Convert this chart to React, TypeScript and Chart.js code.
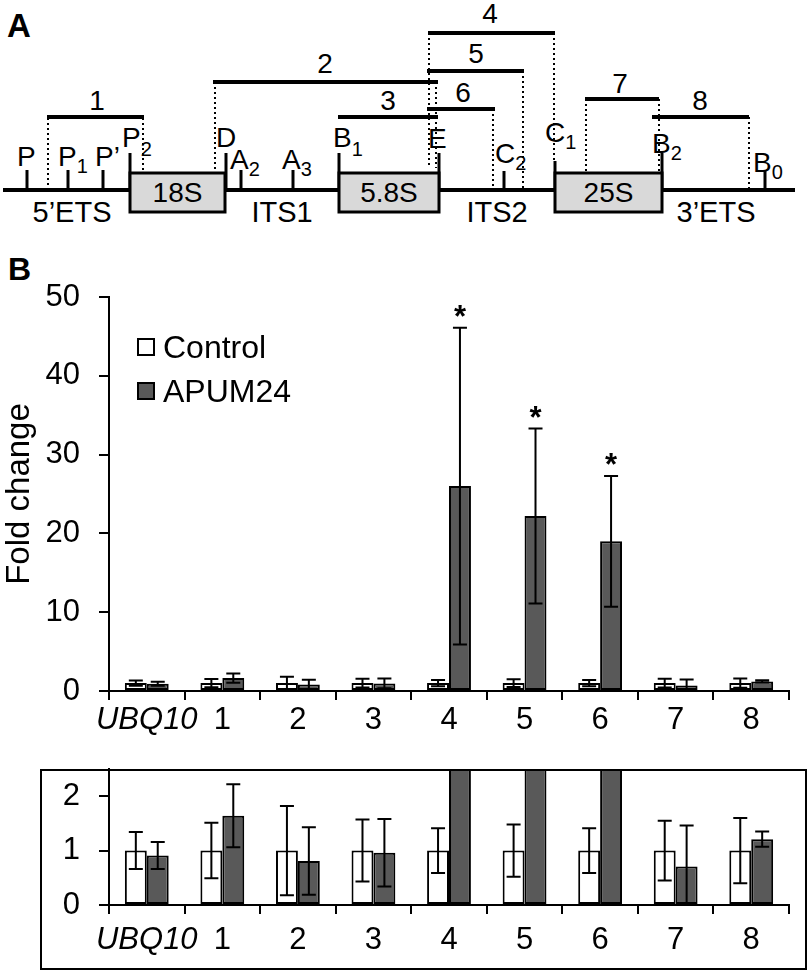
import React, { useEffect, useRef } from 'react';
import { Chart, registerables } from 'chart.js';

Chart.register(...registerables);

// ---------- data ----------
const categories = ['UBQ10', '1', '2', '3', '4', '5', '6', '7', '8'];
const seriesLabels = ['Control', 'APUM24'];
const controlValues = [1, 1, 1, 1, 1, 1, 1, 1, 1];
const controlErrors = [0.34, 0.51, 0.82, 0.57, 0.41, 0.48, 0.41, 0.55, 0.6];
const apumValues = [0.91, 1.64, 0.81, 0.96, 26, 22.2, 19, 0.71, 1.21];
const apumErrors = [0.25, 0.58, 0.62, 0.62, 20.1, 11.1, 8.3, 0.75, 0.14];
const significant = [false, false, false, false, true, true, true, false, false];
const mainYTicks = [0, 10, 20, 30, 40, 50];
const insetYTicks = [0, 1, 2];

const FONT = "'Liberation Sans', Arial, Helvetica, sans-serif";
const DARK = '#595959';

const MAIN_TOP = 257;
const INSET_TOP = 727;

const errorBarPlugin = {
  id: 'errorBars',
  afterDatasetsDraw(chart: any) {
    const { ctx, chartArea, scales } = chart;
    const y = scales.y;
    const errs = [controlErrors, apumErrors];
    ctx.save();
    ctx.beginPath();
    ctx.rect(chartArea.left, chartArea.top - 1, chartArea.right - chartArea.left, chartArea.bottom - chartArea.top + 1);
    ctx.clip();
    ctx.strokeStyle = '#000';
    ctx.lineWidth = 2;
    chart.data.datasets.forEach((ds: any, di: number) => {
      const meta = chart.getDatasetMeta(di);
      meta.data.forEach((bar: any, i: number) => {
        const v = ds.data[i];
        const e = errs[di][i];
        const x = bar.x;
        const yt = y.getPixelForValue(v + e);
        const yb = y.getPixelForValue(v - e);
        ctx.beginPath();
        ctx.moveTo(x, yt);
        ctx.lineTo(x, yb);
        ctx.moveTo(x - 7, yt);
        ctx.lineTo(x + 7, yt);
        ctx.moveTo(x - 7, yb);
        ctx.lineTo(x + 7, yb);
        ctx.stroke();
      });
    });
    ctx.restore();
  },
};

const asteriskPlugin = {
  id: 'asterisks',
  afterDatasetsDraw(chart: any, _args: any, opts: any) {
    if (!opts || !opts.enabled) return;
    const { ctx, scales } = chart;
    const meta = chart.getDatasetMeta(1);
    ctx.save();
    ctx.fillStyle = '#000';
    ctx.font = `bold 31px ${FONT}`;
    ctx.textAlign = 'center';
    ctx.textBaseline = 'alphabetic';
    significant.forEach((s, i) => {
      if (!s) return;
      const bar = meta.data[i];
      const yt = scales.y.getPixelForValue(apumValues[i] + apumErrors[i]);
      ctx.fillText('*', bar.x, yt - 1);
    });
    ctx.restore();
  },
};

const legendPlugin = {
  id: 'boxLegend',
  afterDraw(chart: any, _args: any, opts: any) {
    if (!opts || !opts.enabled) return;
    const { ctx } = chart;
    const fills = ['#ffffff', DARK];
    const tops = [338 - MAIN_TOP, 382 - MAIN_TOP];
    ctx.save();
    seriesLabels.forEach((lab, i) => {
      ctx.fillStyle = fills[i];
      ctx.fillRect(137, tops[i], 18, 18);
      ctx.strokeStyle = '#000';
      ctx.lineWidth = 2;
      ctx.strokeRect(138, tops[i] + 1, 16, 16);
      ctx.fillStyle = '#000';
      ctx.font = `32px ${FONT}`;
      ctx.textAlign = 'left';
      ctx.textBaseline = 'alphabetic';
      ctx.fillText(lab, 163, tops[i] + 20);
    });
    ctx.restore();
  },
};

function makeConfig(o: {
  yMax: number;
  yTicks: number[];
  padTop: number;
  xHeight: number;
  xPad: number;
  main: boolean;
}): any {
  return {
    type: 'bar',
    data: {
      labels: categories,
      datasets: [
        {
          label: seriesLabels[0],
          data: controlValues,
          backgroundColor: '#ffffff',
          borderColor: '#000',
          borderWidth: 2,
          borderSkipped: false,
          categoryPercentage: 0.58,
          barPercentage: 1,
        },
        {
          label: seriesLabels[1],
          data: apumValues,
          backgroundColor: DARK,
          borderColor: '#000',
          borderWidth: 2,
          borderSkipped: false,
          categoryPercentage: 0.58,
          barPercentage: 1,
        },
      ],
    },
    options: {
      responsive: false,
      animation: false,
      devicePixelRatio: 1,
      layout: { padding: { left: 0, right: 21, top: o.padTop, bottom: 0 } },
      plugins: {
        legend: { display: false },
        tooltip: { enabled: false },
        asterisks: { enabled: o.main },
        boxLegend: { enabled: o.main },
      },
      scales: {
        x: {
          type: 'category',
          offset: true,
          grid: {
            offset: true,
            drawOnChartArea: false,
            drawTicks: true,
            tickLength: 9,
            color: '#000',
            lineWidth: 2,
          },
          border: { display: true, color: '#000', width: 2 },
          ticks: {
            color: '#000',
            padding: o.xPad,
            maxRotation: 0,
            autoSkip: false,
            font: (c: any) => ({
              family: FONT,
              size: 31,
              style: c.index === 0 ? 'italic' : 'normal',
            }),
          },
          afterFit: (s: any) => {
            s.height = o.xHeight;
          },
        },
        y: {
          min: 0,
          max: o.yMax,
          grid: {
            drawOnChartArea: false,
            drawTicks: true,
            tickLength: 10,
            color: '#000',
            lineWidth: 2,
          },
          border: { display: true, color: '#000', width: 2 },
          ticks: {
            color: '#000',
            padding: 19,
            font: { family: FONT, size: 31 },
          },
          title: o.main
            ? {
                display: true,
                text: 'Fold change',
                color: '#000',
                font: { family: FONT, size: 33 },
                padding: { top: 0, bottom: 0 },
              }
            : { display: false },
          afterBuildTicks: (s: any) => {
            s.ticks = o.yTicks.map((v) => ({ value: v }));
          },
          afterFit: (s: any) => {
            s.width = 109;
          },
        },
      },
    },
    plugins: [errorBarPlugin, asteriskPlugin, legendPlugin],
  };
}

const Lbl = ({ x, y, t, sub, subDy = 7 }: { x: number; y: number; t: string; sub?: string; subDy?: number }) => (
  <text x={x} y={y} fontSize={28}>
    {t}
    {sub ? (
      <tspan fontSize={20} dy={subDy}>
        {sub}
      </tspan>
    ) : null}
  </text>
);

const Diagram = () => {
  const dotted = (x: number, y1: number, y2: number, k: string) => (
    <line key={k} x1={x} y1={y1} x2={x} y2={y2} stroke="#000" strokeWidth={2} strokeDasharray="2,3" />
  );
  const tick = (x: number, y1: number, k: string) => (
    <line key={k} x1={x} y1={y1} x2={x} y2={190} stroke="#000" strokeWidth={3} />
  );
  const seg = (x1: number, x2: number, y: number, label: string, lx: number, ly: number) => (
    <g key={'s' + label}>
      <line x1={x1} y1={y} x2={x2} y2={y} stroke="#000" strokeWidth={4} />
      <text x={lx} y={ly} fontSize={28} textAnchor="middle">
        {label}
      </text>
    </g>
  );
  const box = (x1: number, x2: number, label: string) => (
    <g key={'b' + label}>
      <rect x={x1} y={173} width={x2 - x1} height={39} fill="#d9d9d9" stroke="#000" strokeWidth={3} />
      <text x={(x1 + x2) / 2} y={202} fontSize={28} textAnchor="middle">
        {label}
      </text>
    </g>
  );
  return (
    <svg width={810} height={290} style={{ position: 'absolute', left: 0, top: 0 }} fontFamily={FONT}>
      <text x={7} y={37} fontSize={33} fontWeight="bold">
        A
      </text>
      <text x={8} y={280} fontSize={32} fontWeight="bold">
        B
      </text>
      {dotted(48, 118, 190, 'd1')}
      {dotted(143, 118, 172, 'd2')}
      {dotted(215, 82, 173, 'd3')}
      {dotted(429, 33, 168, 'd4')}
      {dotted(436, 82, 168, 'd5')}
      {dotted(554, 33, 162, 'd6')}
      {dotted(523, 71, 190, 'd7')}
      {dotted(493, 109, 190, 'd8')}
      {dotted(586, 99, 173, 'd9')}
      {dotted(659, 99, 173, 'd10')}
      {dotted(749, 117, 190, 'd11')}
      {seg(47, 144, 117, '1', 97, 110)}
      {seg(213, 438, 82, '2', 325, 73)}
      {seg(338, 438, 117, '3', 388, 110)}
      {seg(428, 555, 33, '4', 490, 23)}
      {seg(427, 524, 71, '5', 476, 63)}
      {seg(427, 495, 109, '6', 463, 102)}
      {seg(585, 659, 99, '7', 620, 93)}
      {seg(652, 749, 117, '8', 700, 110)}
      <line x1={3} y1={190} x2={795} y2={190} stroke="#000" strokeWidth={4} />
      {tick(27, 170, 't1')}
      {tick(68, 170, 't2')}
      {tick(103, 170, 't3')}
      {tick(130, 153, 't4')}
      {tick(226, 153, 't5')}
      {tick(241, 170, 't6')}
      {tick(293, 170, 't7')}
      {tick(339, 153, 't8')}
      {tick(439, 153, 't9')}
      {tick(504, 171, 't10')}
      {tick(555, 161, 't11')}
      {tick(662, 153, 't12')}
      {tick(765, 171, 't13')}
      {box(130, 225, '18S')}
      {box(339, 439, '5.8S')}
      {box(555, 662, '25S')}
      <Lbl x={17} y={166} t="P" />
      <Lbl x={58} y={166} t="P" sub="1" />
      <Lbl x={95} y={166} t="P’" />
      <Lbl x={122} y={147} t="P" sub="2" subDy={9} />
      <Lbl x={216} y={147} t="D" />
      <Lbl x={230} y={169} t="A" sub="2" />
      <Lbl x={282} y={169} t="A" sub="3" />
      <Lbl x={333} y={147} t="B" sub="1" subDy={9} />
      <Lbl x={428} y={148} t="E" />
      <Lbl x={495} y={163} t="C" sub="2" />
      <Lbl x={545} y={142} t="C" sub="1" />
      <Lbl x={652} y={153} t="B" sub="2" />
      <Lbl x={753} y={172} t="B" sub="0" />
      <text x={72} y={222} fontSize={29} textAnchor="middle">
        5’ETS
      </text>
      <text x={282} y={222} fontSize={29} textAnchor="middle">
        ITS1
      </text>
      <text x={497} y={222} fontSize={29} textAnchor="middle">
        ITS2
      </text>
      <text x={716} y={222} fontSize={29} textAnchor="middle">
        3’ETS
      </text>
    </svg>
  );
};

export default function App() {
  const mainRef = useRef<HTMLCanvasElement | null>(null);
  const insetRef = useRef<HTMLCanvasElement | null>(null);

  useEffect(() => {
    // main: chart area 297..691 on page
    const c1 = new Chart(
      mainRef.current as HTMLCanvasElement,
      makeConfig({ yMax: 50, yTicks: mainYTicks, padTop: 297 - MAIN_TOP, xHeight: 750 - 691, xPad: 2, main: true })
    );
    // inset: chart area 769..905 on page
    const c2 = new Chart(
      insetRef.current as HTMLCanvasElement,
      makeConfig({ yMax: 2.5, yTicks: insetYTicks, padTop: 769 - INSET_TOP, xHeight: 971 - 905, xPad: 8, main: false })
    );
    return () => {
      c1.destroy();
      c2.destroy();
    };
  }, []);

  return (
    <div
      style={{
        position: 'absolute',
        left: 0,
        top: 0,
        width: 810,
        height: 971,
        background: '#fff',
        fontFamily: FONT,
        overflow: 'hidden',
      }}
    >
      <Diagram />
      <canvas
        ref={mainRef}
        width={810}
        height={750 - MAIN_TOP}
        style={{ position: 'absolute', left: 0, top: MAIN_TOP, width: 810, height: 750 - MAIN_TOP }}
      />
      <canvas
        ref={insetRef}
        width={810}
        height={971 - INSET_TOP}
        style={{ position: 'absolute', left: 0, top: INSET_TOP, width: 810, height: 971 - INSET_TOP }}
      />
      <div
        style={{
          position: 'absolute',
          left: 40,
          top: 769,
          width: 767,
          height: 201,
          border: '2px solid #000',
          boxSizing: 'border-box',
          pointerEvents: 'none',
        }}
      />
    </div>
  );
}
